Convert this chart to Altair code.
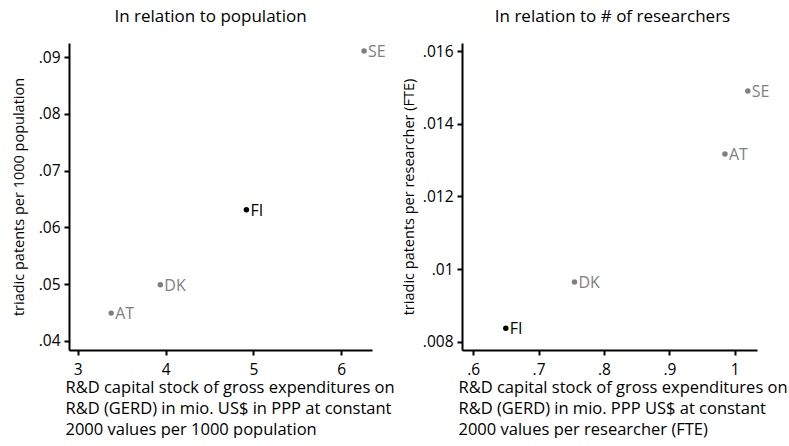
import altair as alt
import pandas as pd

countries = ["SE", "FI", "DK", "AT"]
pop_x = [6.26, 4.92, 3.94, 3.38]
pop_y = [0.0911, 0.0631, 0.0499, 0.0449]
res_x = [1.020, 0.650, 0.755, 0.985]
res_y = [0.0149, 0.00838, 0.00965, 0.01317]
highlight = ["other", "FI", "other", "other"]

pop_xticks = [3, 4, 5, 6]
pop_yticks = [0.04, 0.05, 0.06, 0.07, 0.08, 0.09]
res_xticks = [0.6, 0.7, 0.8, 0.9, 1.0]
res_yticks = [0.008, 0.01, 0.012, 0.014, 0.016]

df_pop = pd.DataFrame({"c": countries, "x": pop_x, "y": pop_y, "g": highlight})
df_res = pd.DataFrame({"c": countries, "x": res_x, "y": res_y, "g": highlight})

FONT = "Open Sans"
LBL = "replace(format(datum.value, '.3~f'), /^0/, '')"

pt_color = alt.Color("g:N", scale=alt.Scale(domain=["FI", "other"], range=["#000000", "#7f7f7f"]), legend=None)
tx_color = alt.Color("g:N", scale=alt.Scale(domain=["FI", "other"], range=["#000000", "#999999"]), legend=None)


def axis(title, values, title_size, label_pad, title_pad):
    return alt.Axis(
        title=title, values=values, labelExpr=LBL, grid=False,
        domainColor="black", domainWidth=2, tickColor="black", tickWidth=2,
        tickSize=5, labelFont=FONT, labelFontSize=15.5, labelColor="black",
        titleFont=FONT, titleFontSize=title_size, titleFontWeight="normal", titleColor="black",
        labelPadding=label_pad, titlePadding=title_pad,
    )


def panel(df, title, xdom, ydom, xt, yt, xtitle, ytitle, w, tdx, ytp):
    base = alt.Chart(df)
    x = alt.X("x:Q", scale=alt.Scale(domain=xdom, nice=False, zero=False),
              axis=axis(xtitle, xt, 16.5, 7, 2))
    y = alt.Y("y:Q", scale=alt.Scale(domain=ydom, nice=False, zero=False),
              axis=axis(ytitle, yt, 14.5, 4, ytp))
    pts = base.mark_circle(size=30, opacity=1).encode(x=x, y=y, color=pt_color)
    txt = base.mark_text(align="left", baseline="middle", dx=4, dy=1, font=FONT, fontSize=16).encode(
        x="x:Q", y="y:Q", text="c:N", color=tx_color)
    return (pts + txt).properties(
        width=w, height=307,
        title=alt.TitleParams(title, font=FONT, fontSize=17, fontWeight="normal", color="black",
                              anchor="middle", offset=17, dx=tdx),
    )


left = panel(df_pop, "In relation to population", [2.9, 6.35], [0.0384, 0.0925],
             pop_xticks, pop_yticks,
             ["R&D capital stock of gross expenditures on",
              "R&D (GERD) in mio. US$ in PPP at constant",
              "2000 values per 1000 population"],
             "triadic patents per 1000 population", 303, -10, 12)
right = panel(df_res, "In relation to # of researchers", [0.583, 1.034], [0.00778, 0.01622],
              res_xticks, res_yticks,
              ["R&D capital stock of gross expenditures on",
               "R&D (GERD) in mio. PPP US$ at constant",
               "2000 values per researcher (FTE)"],
              "triadic patents per researcher (FTE)", 295, 3, 6)

chart = alt.hconcat(left, right, spacing=6).properties(
    padding={"left": 11, "top": 8, "right": 0, "bottom": 0}
).configure_view(stroke=None).configure_axisX(titleAlign="left", titleAnchor="start", titleX=-4, titleLineHeight=21)

chart.save("out.html", embed_options={"renderer": "svg", "actions": False})
